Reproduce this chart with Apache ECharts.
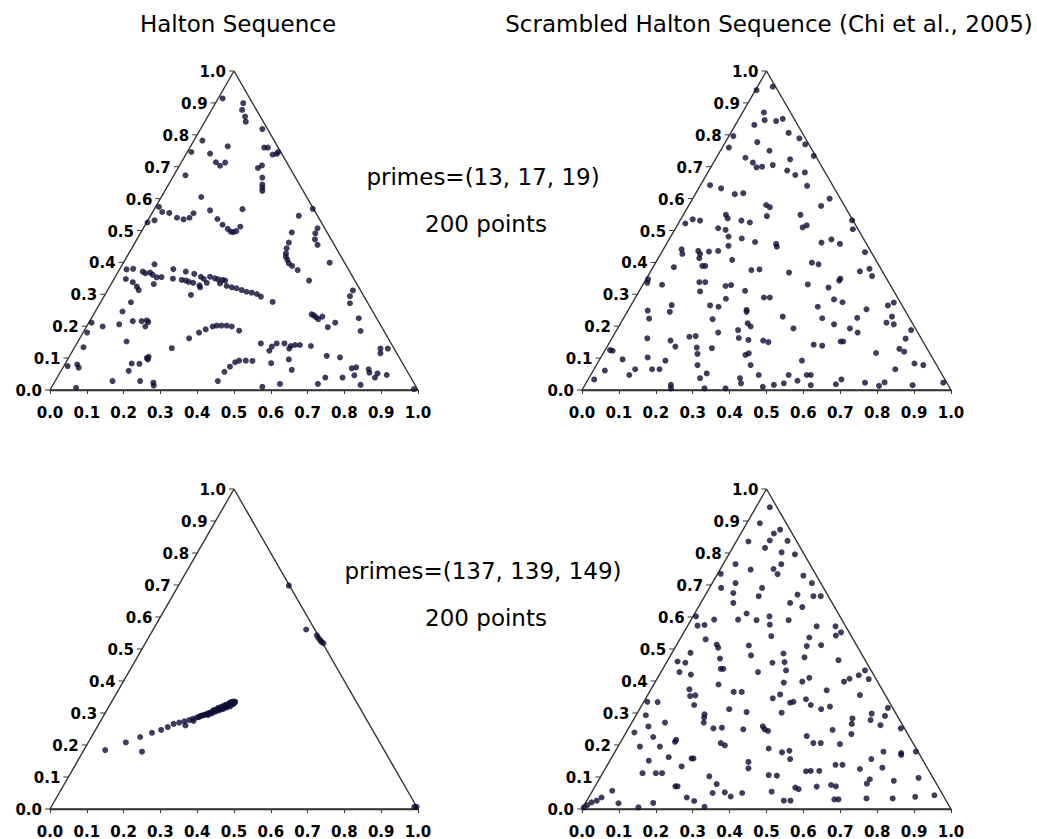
<!DOCTYPE html>
<html><head><meta charset="utf-8">
<script src="https://cdn.jsdelivr.net/npm/echarts@6/dist/echarts.min.js"></script>
<style>html,body{margin:0;padding:0;background:#fff}#c{width:1037px;height:839px}</style>
</head><body><div id="c"></div>
<script>
const tickValues = [0,0.1,0.2,0.3,0.4,0.5,0.6,0.7,0.8,0.9,1.0];
const tickLabels = ['0.0','0.1','0.2','0.3','0.4','0.5','0.6','0.7','0.8','0.9','1.0'];
const triangle = [[0,0],[0.5,1],[1,0],[0,0]];
const titles = ['Halton Sequence','Scrambled Halton Sequence (Chi et al., 2005)'];
const notesTop = ['primes=(13, 17, 19)','200 points'];
const notesBottom = ['primes=(137, 139, 149)','200 points'];

// Halton, primes (13,17,19)
const haltonA = [[0.469,0.914],[0.525,0.899],[0.522,0.878],[0.530,0.857],[0.532,0.841],[0.414,0.782],[0.384,0.746],[0.435,0.741],[0.483,0.764],[0.451,0.714],[0.462,0.703],[0.476,0.713],[0.565,0.696],[0.368,0.673],[0.411,0.605],[0.296,0.574],[0.305,0.558],[0.324,0.555],[0.345,0.540],[0.363,0.535],[0.379,0.540],[0.390,0.554],[0.284,0.532],[0.265,0.525],[0.435,0.563],[0.455,0.536],[0.469,0.518],[0.483,0.505],[0.491,0.496],[0.498,0.495],[0.506,0.498],[0.517,0.512],[0.523,0.567],
[0.577,0.818],[0.582,0.760],[0.592,0.760],[0.605,0.738],[0.616,0.740],[0.620,0.746],[0.576,0.704],[0.577,0.666],[0.577,0.644],[0.577,0.634],[0.577,0.624],[0.714,0.568],[0.676,0.546],[0.727,0.507],[0.721,0.491],[0.720,0.472],[0.727,0.455],[0.657,0.494],[0.649,0.462],[0.643,0.444],
[0.208,0.378],[0.226,0.380],[0.284,0.394],[0.206,0.348],[0.225,0.338],[0.236,0.324],[0.241,0.313],[0.252,0.371],[0.259,0.366],[0.272,0.368],[0.279,0.361],[0.290,0.353],[0.303,0.354],[0.282,0.332],[0.335,0.379],[0.334,0.349],[0.369,0.371],[0.358,0.345],[0.369,0.343],[0.377,0.339],[0.389,0.336],[0.392,0.364],[0.410,0.355],[0.406,0.328],[0.408,0.322],[0.418,0.348],[0.426,0.336],[0.435,0.355],[0.448,0.350],[0.457,0.347],[0.469,0.345],[0.476,0.343],[0.462,0.334],[0.480,0.326],[0.494,0.322],[0.507,0.319],[0.521,0.313],[0.534,0.308],[0.548,0.305],[0.562,0.301],[0.383,0.298],[0.197,0.246],[0.220,0.275],[0.113,0.211],[0.143,0.199],[0.101,0.180],[0.188,0.206],[0.208,0.152],[0.225,0.216],[0.249,0.216],[0.263,0.218],[0.267,0.213],[0.259,0.199],[0.091,0.134],[0.048,0.075],[0.074,0.080],[0.078,0.070],[0.214,0.060],[0.222,0.083],[0.243,0.082],[0.263,0.100],[0.268,0.104],[0.266,0.096],[0.170,0.028],[0.245,0.028],[0.281,0.023],[0.282,0.014],[0.071,0.007],[0.331,0.131],[0.378,0.162],[0.405,0.180],[0.423,0.190],[0.442,0.199],[0.453,0.202],[0.466,0.202],[0.480,0.202],[0.494,0.199],[0.514,0.186],[0.456,0.028],[0.474,0.057],[0.489,0.073],[0.503,0.087],[0.514,0.092],[0.532,0.092],[0.550,0.091],
[0.641,0.428],[0.641,0.418],[0.645,0.408],[0.649,0.397],[0.658,0.389],[0.673,0.376],[0.760,0.399],[0.704,0.343],[0.823,0.312],[0.815,0.294],[0.815,0.272],[0.711,0.237],[0.717,0.234],[0.723,0.228],[0.740,0.230],[0.729,0.222],[0.775,0.211],[0.755,0.197],[0.839,0.225],[0.844,0.185],[0.573,0.293],[0.605,0.276],[0.573,0.146],[0.596,0.123],[0.603,0.136],[0.616,0.146],[0.637,0.146],[0.650,0.130],[0.654,0.138],[0.666,0.141],[0.679,0.141],[0.649,0.096],[0.657,0.063],[0.601,0.084],[0.577,0.010],[0.625,0.019],[0.709,0.138],[0.752,0.107],[0.788,0.102],[0.748,0.039],[0.728,0.019],[0.795,0.039],[0.820,0.068],[0.832,0.071],[0.827,0.046],[0.844,0.016],[0.866,0.065],[0.868,0.054],[0.883,0.039],[0.890,0.052],[0.915,0.047],[0.898,0.130],[0.898,0.115],[0.918,0.130],[0.989,0.003]];

// Scrambled Halton, primes (13,17,19)
const scrambledA = [[0.473,0.940],[0.517,0.951],[0.493,0.870],[0.495,0.846],[0.467,0.831],[0.526,0.843],[0.544,0.850],[0.560,0.806],[0.589,0.789],[0.605,0.770],[0.475,0.777],[0.410,0.796],[0.398,0.760],[0.443,0.728],[0.463,0.713],[0.488,0.700],[0.473,0.698],[0.508,0.750],[0.564,0.723],[0.517,0.705],[0.556,0.688],[0.578,0.674],[0.604,0.682],[0.347,0.642],[0.377,0.632],[0.414,0.614],[0.437,0.617],[0.499,0.580],[0.509,0.573],[0.610,0.640],[0.280,0.522],[0.300,0.535],[0.320,0.531],[0.390,0.549],[0.395,0.538],[0.501,0.545],[0.432,0.531],[0.455,0.525],[0.369,0.507],[0.389,0.502],[0.397,0.481],[0.433,0.475],[0.469,0.464],[0.526,0.458],[0.528,0.449],[0.270,0.441],[0.272,0.427],[0.315,0.436],[0.320,0.426],[0.344,0.434],[0.369,0.436],[0.397,0.452],[0.407,0.408],[0.318,0.413],[0.326,0.389],[0.334,0.389],[0.249,0.385],[0.459,0.376],[0.481,0.378],[0.561,0.368],[0.179,0.347],[0.177,0.336],[0.217,0.330],[0.318,0.338],[0.334,0.338],[0.320,0.309],[0.389,0.326],[0.404,0.329],[0.442,0.311],[0.493,0.290],[0.509,0.290],[0.612,0.331],[0.243,0.266],[0.238,0.245],[0.347,0.265],[0.370,0.261],[0.390,0.286],[0.446,0.251],[0.446,0.245],[0.544,0.230],[0.573,0.193],[0.178,0.249],[0.182,0.224],[0.354,0.222],[0.369,0.180],[0.423,0.188],[0.449,0.209],[0.457,0.199],[0.177,0.162],[0.240,0.155],[0.253,0.136],[0.291,0.167],[0.308,0.169],[0.311,0.133],[0.352,0.131],[0.425,0.163],[0.451,0.157],[0.491,0.155],[0.505,0.150],[0.596,0.092],[0.033,0.033],[0.062,0.061],[0.076,0.125],[0.083,0.123],[0.110,0.096],[0.128,0.047],[0.144,0.065],[0.178,0.102],[0.190,0.065],[0.210,0.065],[0.226,0.092],[0.241,0.016],[0.241,0.005],[0.313,0.113],[0.313,0.078],[0.320,0.037],[0.338,0.052],[0.332,0.005],[0.389,0.005],[0.428,0.037],[0.431,0.021],[0.443,0.110],[0.452,0.115],[0.457,0.078],[0.479,0.047],[0.490,0.010],[0.520,0.016],[0.547,0.021],[0.560,0.047],[0.584,0.029],[0.609,0.047],[0.592,0.549],[0.598,0.510],[0.609,0.516],
[0.628,0.734],[0.671,0.600],[0.648,0.577],[0.732,0.532],[0.734,0.504],[0.649,0.462],[0.676,0.472],[0.699,0.458],[0.767,0.432],[0.623,0.399],[0.641,0.394],[0.753,0.372],[0.779,0.380],[0.786,0.357],[0.697,0.343],[0.700,0.349],[0.668,0.321],[0.683,0.284],[0.706,0.275],[0.639,0.261],[0.771,0.253],[0.651,0.225],[0.683,0.206],[0.746,0.226],[0.726,0.193],[0.747,0.180],[0.829,0.265],[0.845,0.274],[0.840,0.230],[0.845,0.206],[0.825,0.211],[0.892,0.188],[0.877,0.161],[0.860,0.129],[0.873,0.120],[0.628,0.142],[0.651,0.139],[0.701,0.152],[0.708,0.152],[0.797,0.116],[0.901,0.083],[0.925,0.078],[0.849,0.065],[0.620,0.047],[0.620,0.015],[0.703,0.033],[0.688,0.018],[0.767,0.023],[0.820,0.024],[0.805,0.013],[0.896,0.015],[0.979,0.023]];

// Halton, primes (137,139,149)
const haltonB = [[0.150,0.184],[0.206,0.208],[0.245,0.225],[0.250,0.179],[0.277,0.238],[0.302,0.247],[0.320,0.256],[0.336,0.266],[0.351,0.270],[0.365,0.274],[0.368,0.261],[0.378,0.278],[0.388,0.282],[0.390,0.275],[0.399,0.286],[0.408,0.290],[0.417,0.293],[0.426,0.296],[0.435,0.301],[0.444,0.305],[0.453,0.309],[0.462,0.313],[0.471,0.317],[0.480,0.321],[0.489,0.326],[0.498,0.332],[0.503,0.334],[0.404,0.287],[0.412,0.292],[0.421,0.295],[0.430,0.299],[0.439,0.303],[0.448,0.307],[0.457,0.311],[0.466,0.315],[0.475,0.319],[0.484,0.323],[0.493,0.328],[0.500,0.331],[0.430,0.294],[0.440,0.299],[0.450,0.304],[0.460,0.308],[0.470,0.312],[0.480,0.317],[0.490,0.321],[0.445,0.309],[0.455,0.314],[0.465,0.318],[0.475,0.323],[0.485,0.328],[0.495,0.333],[0.502,0.336],[0.496,0.336],[0.490,0.333],[0.458,0.316],[0.468,0.321],[0.478,0.326],[0.488,0.330],[0.498,0.328],
[0.649,0.698],[0.696,0.561],[0.725,0.543],[0.729,0.535],[0.734,0.528],[0.738,0.522],[0.743,0.518],[0.990,0.007],[0.996,0.007]];

// Scrambled Halton, primes (137,139,149)
const scrambledB = [[0.509,0.943],[0.482,0.893],[0.451,0.836],[0.496,0.816],[0.509,0.839],[0.520,0.861],[0.537,0.873],[0.557,0.838],[0.541,0.802],[0.540,0.765],[0.577,0.796],[0.519,0.750],[0.530,0.734],[0.457,0.748],[0.416,0.765],[0.416,0.706],[0.410,0.675],[0.410,0.644],[0.376,0.735],[0.377,0.691],[0.479,0.665],[0.488,0.691],[0.600,0.729],[0.584,0.670],[0.597,0.631],[0.564,0.644],[0.560,0.590],[0.423,0.592],[0.446,0.611],[0.473,0.590],[0.508,0.602],[0.509,0.576],[0.513,0.540],[0.358,0.592],[0.332,0.575],[0.313,0.573],[0.309,0.602],[0.335,0.530],[0.365,0.514],[0.369,0.504],[0.374,0.470],[0.376,0.438],[0.383,0.438],[0.294,0.488],[0.259,0.461],[0.280,0.457],[0.264,0.428],[0.295,0.420],[0.370,0.389],[0.291,0.374],[0.293,0.353],[0.307,0.355],[0.304,0.325],[0.452,0.511],[0.458,0.480],[0.477,0.428],[0.516,0.457],[0.517,0.346],[0.537,0.358],[0.547,0.395],[0.549,0.459],[0.546,0.486],[0.564,0.332],[0.573,0.335],[0.609,0.509],[0.616,0.536],[0.399,0.312],[0.433,0.366],[0.411,0.366],[0.446,0.303],[0.437,0.249],[0.490,0.258],[0.495,0.249],[0.504,0.244],[0.506,0.189],[0.542,0.177],[0.562,0.182],[0.609,0.228],[0.607,0.118],[0.379,0.254],[0.356,0.252],[0.332,0.296],[0.331,0.286],[0.330,0.270],[0.376,0.206],[0.387,0.199],[0.451,0.147],[0.451,0.127],[0.506,0.106],[0.528,0.104],[0.514,0.054],[0.547,0.026],[0.565,0.026],[0.578,0.067],[0.587,0.062],[0.434,0.050],[0.403,0.039],[0.387,0.052],[0.345,0.102],[0.365,0.078],[0.253,0.071],[0.259,0.071],[0.270,0.133],[0.297,0.158],[0.302,0.158],[0.211,0.195],[0.200,0.112],[0.217,0.112],[0.164,0.112],[0.157,0.195],[0.181,0.151],[0.173,0.293],[0.177,0.335],[0.205,0.334],[0.225,0.270],[0.180,0.258],[0.193,0.225],[0.142,0.239],[0.235,0.162],[0.255,0.216],[0.252,0.210],[0.284,0.036],[0.304,0.025],[0.332,0.007],[0.193,0.019],[0.153,0.005],[0.099,0.018],[0.082,0.057],[0.053,0.036],[0.040,0.026],[0.026,0.021],[0.014,0.012],[0.005,0.005],[0.354,0.050],[0.603,0.474],[0.616,0.410],[0.597,0.398],[0.607,0.343],[0.564,0.156],[0.553,0.433],[0.541,0.301],
[0.623,0.706],[0.627,0.665],[0.647,0.665],[0.636,0.571],[0.687,0.571],[0.688,0.542],[0.702,0.552],[0.648,0.512],[0.695,0.465],[0.750,0.418],[0.767,0.433],[0.777,0.406],[0.710,0.398],[0.725,0.407],[0.663,0.371],[0.620,0.325],[0.648,0.312],[0.672,0.320],[0.753,0.356],[0.829,0.316],[0.733,0.283],[0.731,0.266],[0.730,0.234],[0.785,0.298],[0.782,0.278],[0.821,0.291],[0.809,0.262],[0.864,0.252],[0.679,0.247],[0.627,0.206],[0.647,0.206],[0.699,0.203],[0.817,0.179],[0.784,0.156],[0.865,0.175],[0.865,0.169],[0.905,0.179],[0.687,0.138],[0.706,0.138],[0.753,0.125],[0.814,0.129],[0.620,0.119],[0.643,0.119],[0.912,0.097],[0.845,0.088],[0.780,0.093],[0.772,0.079],[0.636,0.070],[0.675,0.075],[0.688,0.071],[0.684,0.030],[0.695,0.030],[0.771,0.033],[0.842,0.033],[0.903,0.038],[0.955,0.043]];

const panelData = [haltonA, scrambledA, haltonB, scrambledB];
const layout = [
  {left:50, top:71, width:368, height:319},
  {left:582, top:71, width:369, height:319},
  {left:50, top:489, width:368, height:321},
  {left:582, top:489, width:369, height:321}
];
const FONT = '"DejaVu Sans", sans-serif';
const LINE = '#333333';
const DOT = '#0c0c36';
const TXT = '#000000';

const chart = echarts.init(document.getElementById('c'), null, {renderer:'svg'});
const grid = [], xAxis = [], yAxis = [], series = [];
layout.forEach((g, i) => {
  grid.push(Object.assign({containLabel:false}, g));
  xAxis.push({type:'value', gridIndex:i, min:0, max:1, interval:0.1,
    axisLine:{show:true, onZero:false, lineStyle:{color:LINE, width:1.4}},
    axisTick:{show:true, length:4, lineStyle:{color:LINE, width:1}},
    axisLabel:{show:true, margin:15, fontSize:15, fontWeight:'bold', fontFamily:FONT, color:TXT,
      formatter: v => tickLabels[Math.round(v*10)]},
    splitLine:{show:false}});
  yAxis.push({type:'value', gridIndex:i, min:0, max:1, show:false});
  series.push({type:'line', xAxisIndex:i, yAxisIndex:i, data:triangle, symbol:'none', silent:true,
    lineStyle:{color:LINE, width:1.4}, z:1});
  series.push({type:'custom', xAxisIndex:i, yAxisIndex:i, silent:true, clip:false,
    data: tickValues.map(v => [v/2, v]),
    renderItem: (params, api) => {
      const p = api.coord([api.value(0), api.value(1)]);
      return {type:'group', children:[
        {type:'line', shape:{x1:p[0]-5, y1:p[1], x2:p[0], y2:p[1]}, style:{stroke:LINE, lineWidth:1}},
        {type:'text', style:{text:tickLabels[params.dataIndex], x:p[0]-8, y:p[1]+1, align:'right', verticalAlign:'middle',
          fontSize:15, fontWeight:'bold', fontFamily:FONT, fill:TXT}}
      ]};
    }});
  series.push({type:'scatter', xAxisIndex:i, yAxisIndex:i, data:panelData[i], symbolSize:6,
    itemStyle:{color:DOT}, z:3});
});

const big = {fontSize:23, fontFamily:FONT, fill:TXT, align:'center', verticalAlign:'middle'};
const graphic = [
  {type:'text', x:238, y:24, style:Object.assign({text:titles[0]}, big)},
  {type:'text', x:769, y:24, style:Object.assign({text:titles[1]}, big)},
  {type:'text', x:483, y:177, style:Object.assign({text:notesTop[0]}, big)},
  {type:'text', x:486, y:224, style:Object.assign({text:notesTop[1]}, big)},
  {type:'text', x:483, y:571, style:Object.assign({text:notesBottom[0]}, big)},
  {type:'text', x:486, y:618, style:Object.assign({text:notesBottom[1]}, big)}
];

chart.setOption({animation:false, backgroundColor:'#fff', grid, xAxis, yAxis, series, graphic});
</script></body></html>
